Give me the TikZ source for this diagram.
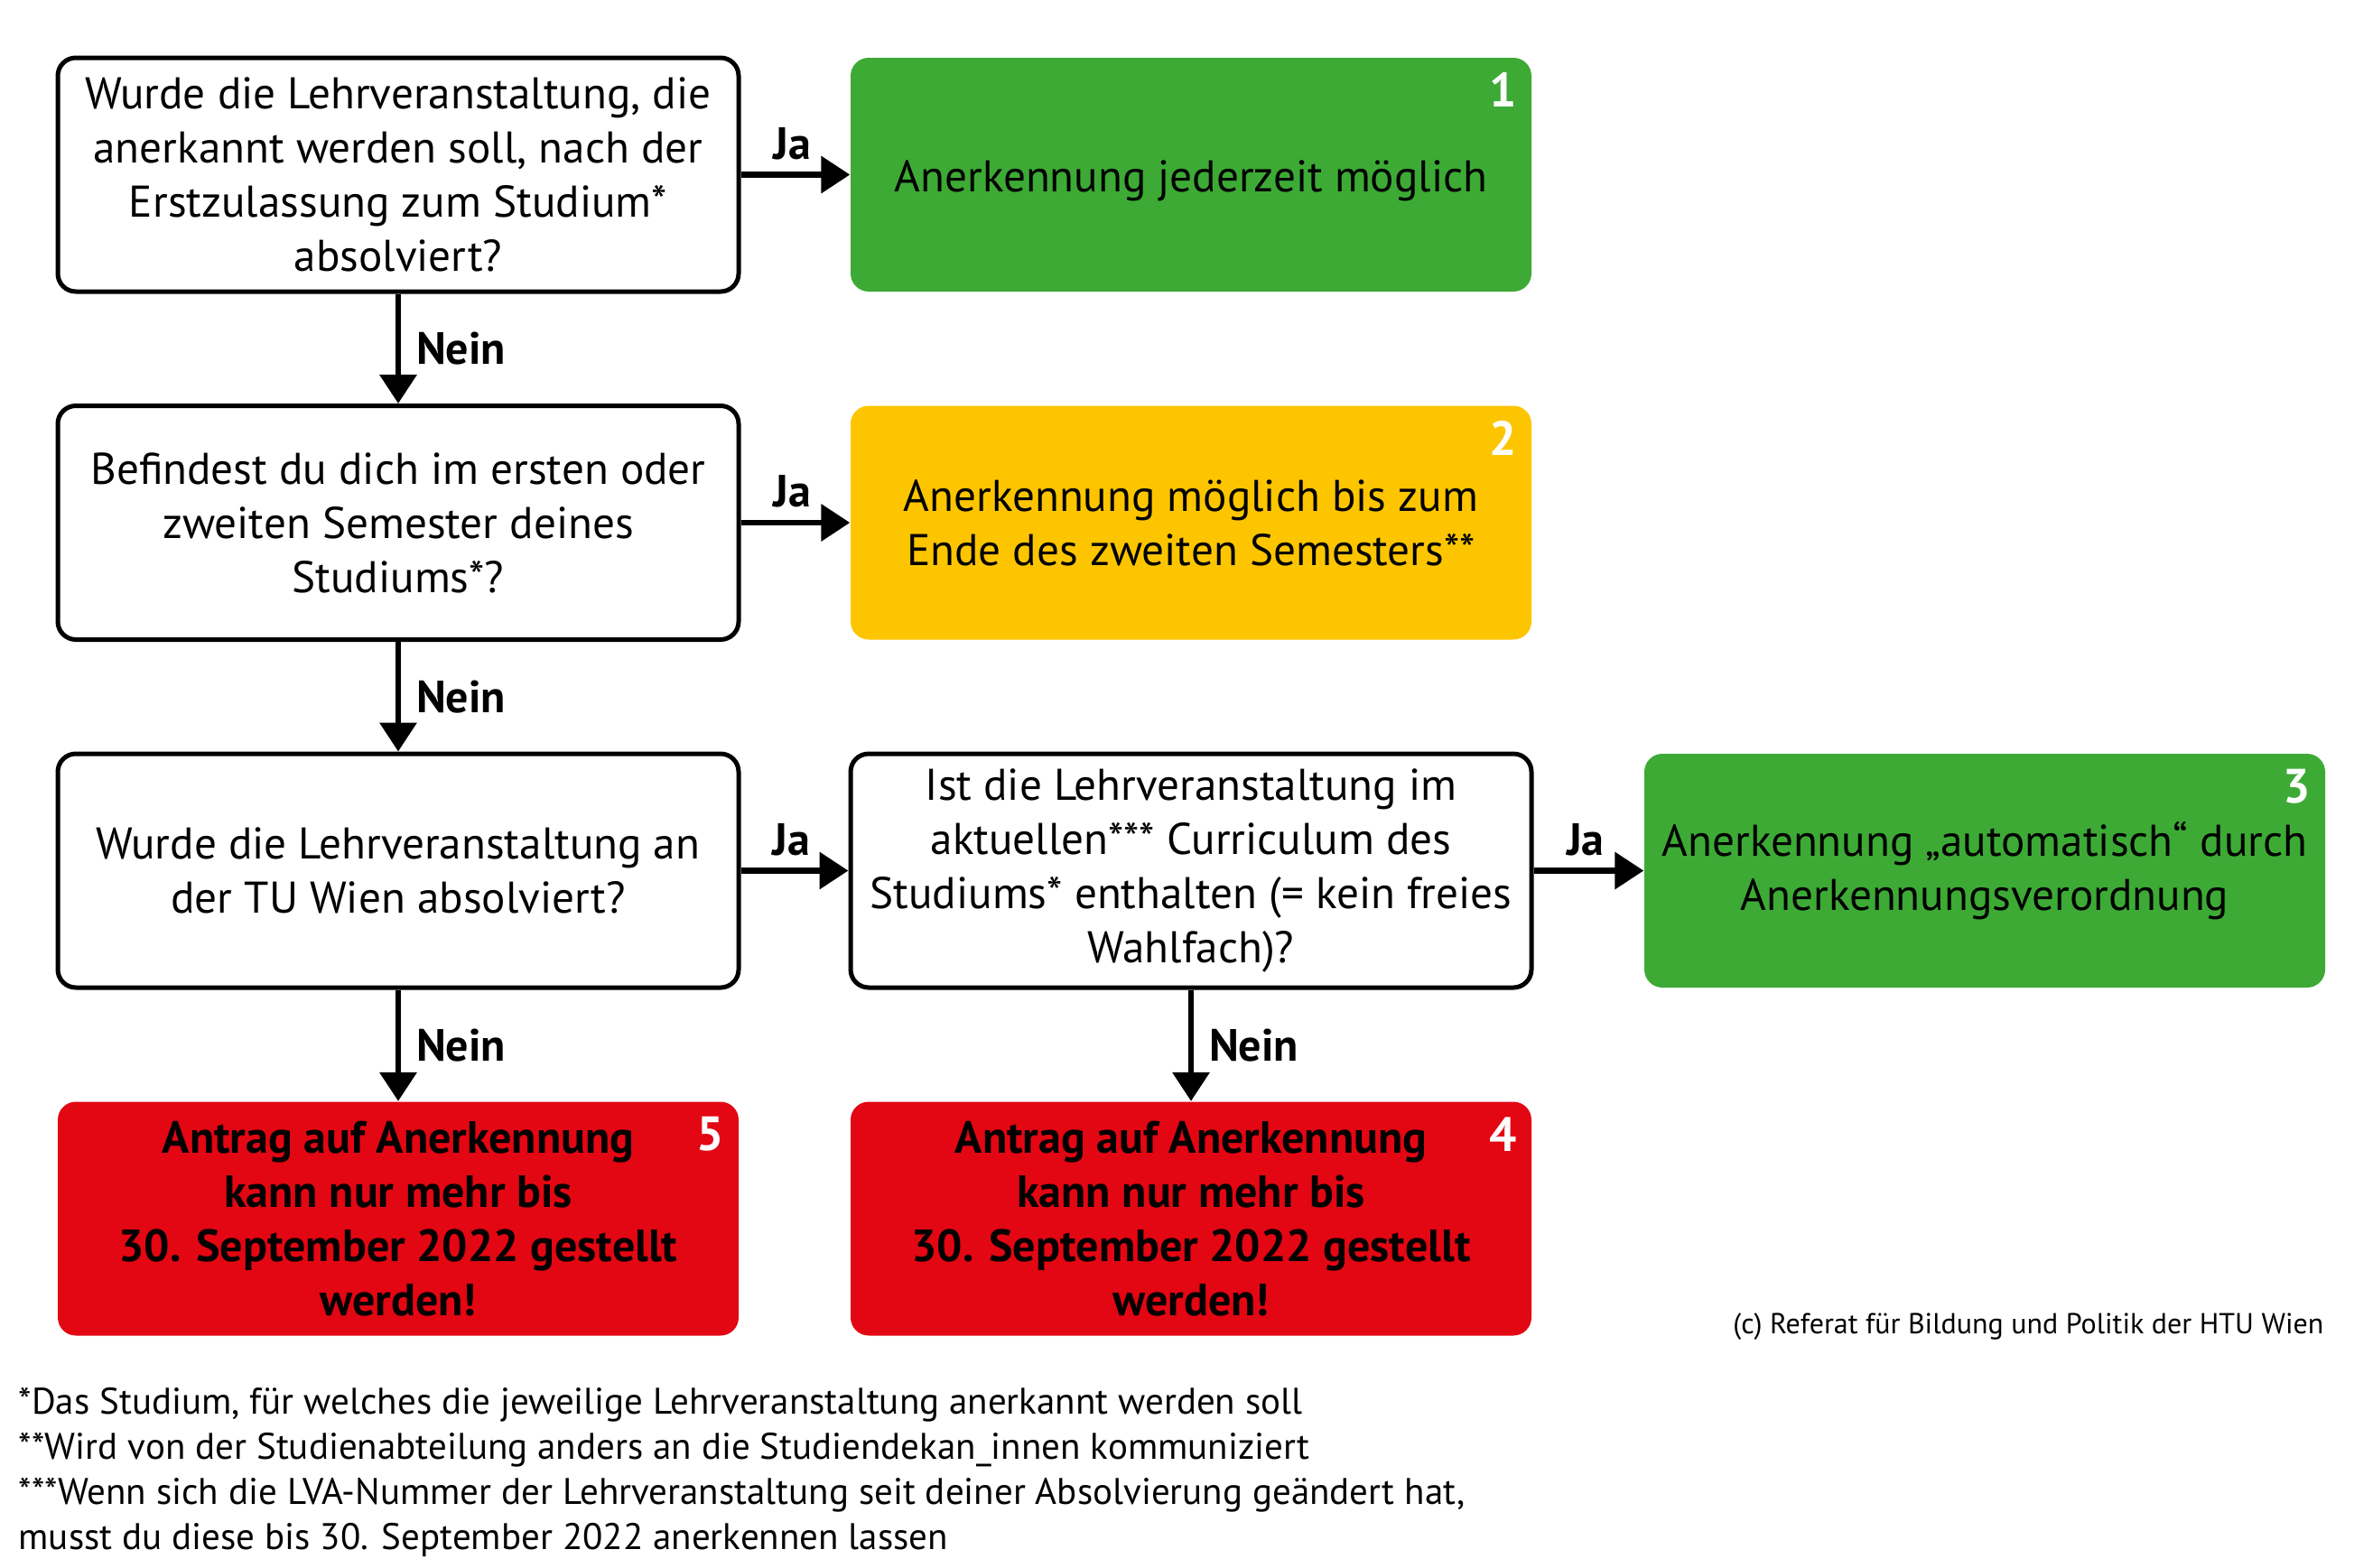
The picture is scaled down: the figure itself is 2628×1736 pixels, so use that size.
\documentclass[tikz,border=0pt]{standalone}
\usepackage{fontspec}
\setmainfont{PT Sans}
\usetikzlibrary{arrows.meta}
\definecolor{boxgreen}{RGB}{61,170,53}
\definecolor{boxyellow}{RGB}{253,197,0}
\definecolor{boxred}{RGB}{227,6,19}
\tikzset{
  basebox/.style={rounded corners=6pt, minimum width=226.2pt, minimum height=77.7pt,
    align=center, inner sep=0pt, font=\fontsize{14.75}{18}\selectfont},
  question/.style={basebox, draw=black, line width=1.5pt, fill=white},
  greenbox/.style={basebox, fill=boxgreen},
  yellowbox/.style={basebox, fill=boxyellow},
  redbox/.style={basebox, fill=boxred, font=\fontsize{15}{18}\selectfont\bfseries},
  numlabel/.style={text=white, font=\fontsize{16}{18}\selectfont\bfseries, inner sep=0pt},
  flow/.style={line width=2pt, -{Triangle[length=9.6pt,width=12pt]}},
  yeslabel/.style={font=\fontsize{15}{18}\selectfont\bfseries, inner sep=0pt},
}
\begin{document}
\begin{tikzpicture}[x=0.3pt,y=-0.3pt]
\useasboundingbox (0,0) rectangle (2628,1736);
% questions
\node[question] (q1) at (441,193.5) {Wurde die Lehrveranstaltung, die\\anerkannt werden soll, nach der\\Erstzulassung zum Studium*\\absolviert?};
\node[question] (q2) at (441,579) {Befindest du dich im ersten oder\\zweiten Semester deines\\Studiums*?};
\node[question] (q3) at (441,964.5) {Wurde die Lehrveranstaltung an\\der TU Wien absolviert?};
\node[question] (q4) at (1319,964.5) {Ist die Lehrveranstaltung im\\aktuellen*** Curriculum des\\Studiums* enthalten (= kein freies\\Wahlfach)?};
% results
\node[greenbox] (r1) at (1319,193.5) {\raisebox{-5.7pt}[0pt][0pt]{Anerkennung jederzeit möglich}};
\node[yellowbox] (r2) at (1319,579) {Anerkennung möglich bis zum\\Ende des zweiten Semesters**};
\node[greenbox] (r3) at (2198,964.5) {Anerkennung „automatisch“ durch\\Anerkennungsverordnung};
\node[redbox] (r5) at (441,1350) {Antrag auf Anerkennung\\kann nur mehr bis\\30. September 2022 gestellt\\werden!};
\node[redbox] (r4) at (1319,1350) {Antrag auf Anerkennung\\kann nur mehr bis\\30. September 2022 gestellt\\werden!};
% numbers
\node[numlabel] (n1) at ([xshift=-9.6pt,yshift=-11pt]r1.north east) {1};
\node[numlabel] (n2) at ([xshift=-9.6pt,yshift=-11pt]r2.north east) {2};
\node[numlabel] (n3) at ([xshift=-9.6pt,yshift=-11pt]r3.north east) {3};
\node[numlabel] (n4) at ([xshift=-9.6pt,yshift=-11pt]r4.north east) {4};
\node[numlabel] (n5) at ([xshift=-9.6pt,yshift=-11pt]r5.north east) {5};
% connectors
\draw[flow] (q1.east) -- node[yeslabel, above=4pt, pos=0.47] (l1) {Ja} (r1.west);
\draw[flow] (q2.east) -- node[yeslabel, above=4pt, pos=0.47] (l2) {Ja} (r2.west);
\draw[flow] (q3.east) -- node[yeslabel, above=4pt, pos=0.47] (l3) {Ja} (q4.west);
\draw[flow] (q4.east) -- node[yeslabel, above=4pt, pos=0.47] (l4) {Ja} (r3.west);
\draw[flow] (q1.south) -- node[yeslabel, right=5pt] (m1) {Nein} (q2.north);
\draw[flow] (q2.south) -- node[yeslabel, right=5pt] (m2) {Nein} (q3.north);
\draw[flow] (q3.south) -- node[yeslabel, right=5pt] (m3) {Nein} (r5.north);
\draw[flow] (q4.south) -- node[yeslabel, right=5pt] (m4) {Nein} (r4.north);
% footer
\node[anchor=east, inner sep=0pt, font=\fontsize{9.6}{12}\selectfont] (copy) at (2574,1470) {(c) Referat für Bildung und Politik der HTU Wien};
\node[anchor=north west, inner sep=0pt, align=left, font=\fontsize{12.3}{15}\selectfont] (notes) at (20,1536) {*Das Studium, für welches die jeweilige Lehrveranstaltung anerkannt werden soll\\**Wird von der Studienabteilung anders an die Studiendekan\_innen kommuniziert\\***Wenn sich die LVA-Nummer der Lehrveranstaltung seit deiner Absolvierung geändert hat,\\musst du diese bis 30. September 2022 anerkennen lassen};
\end{tikzpicture}
\end{document}
